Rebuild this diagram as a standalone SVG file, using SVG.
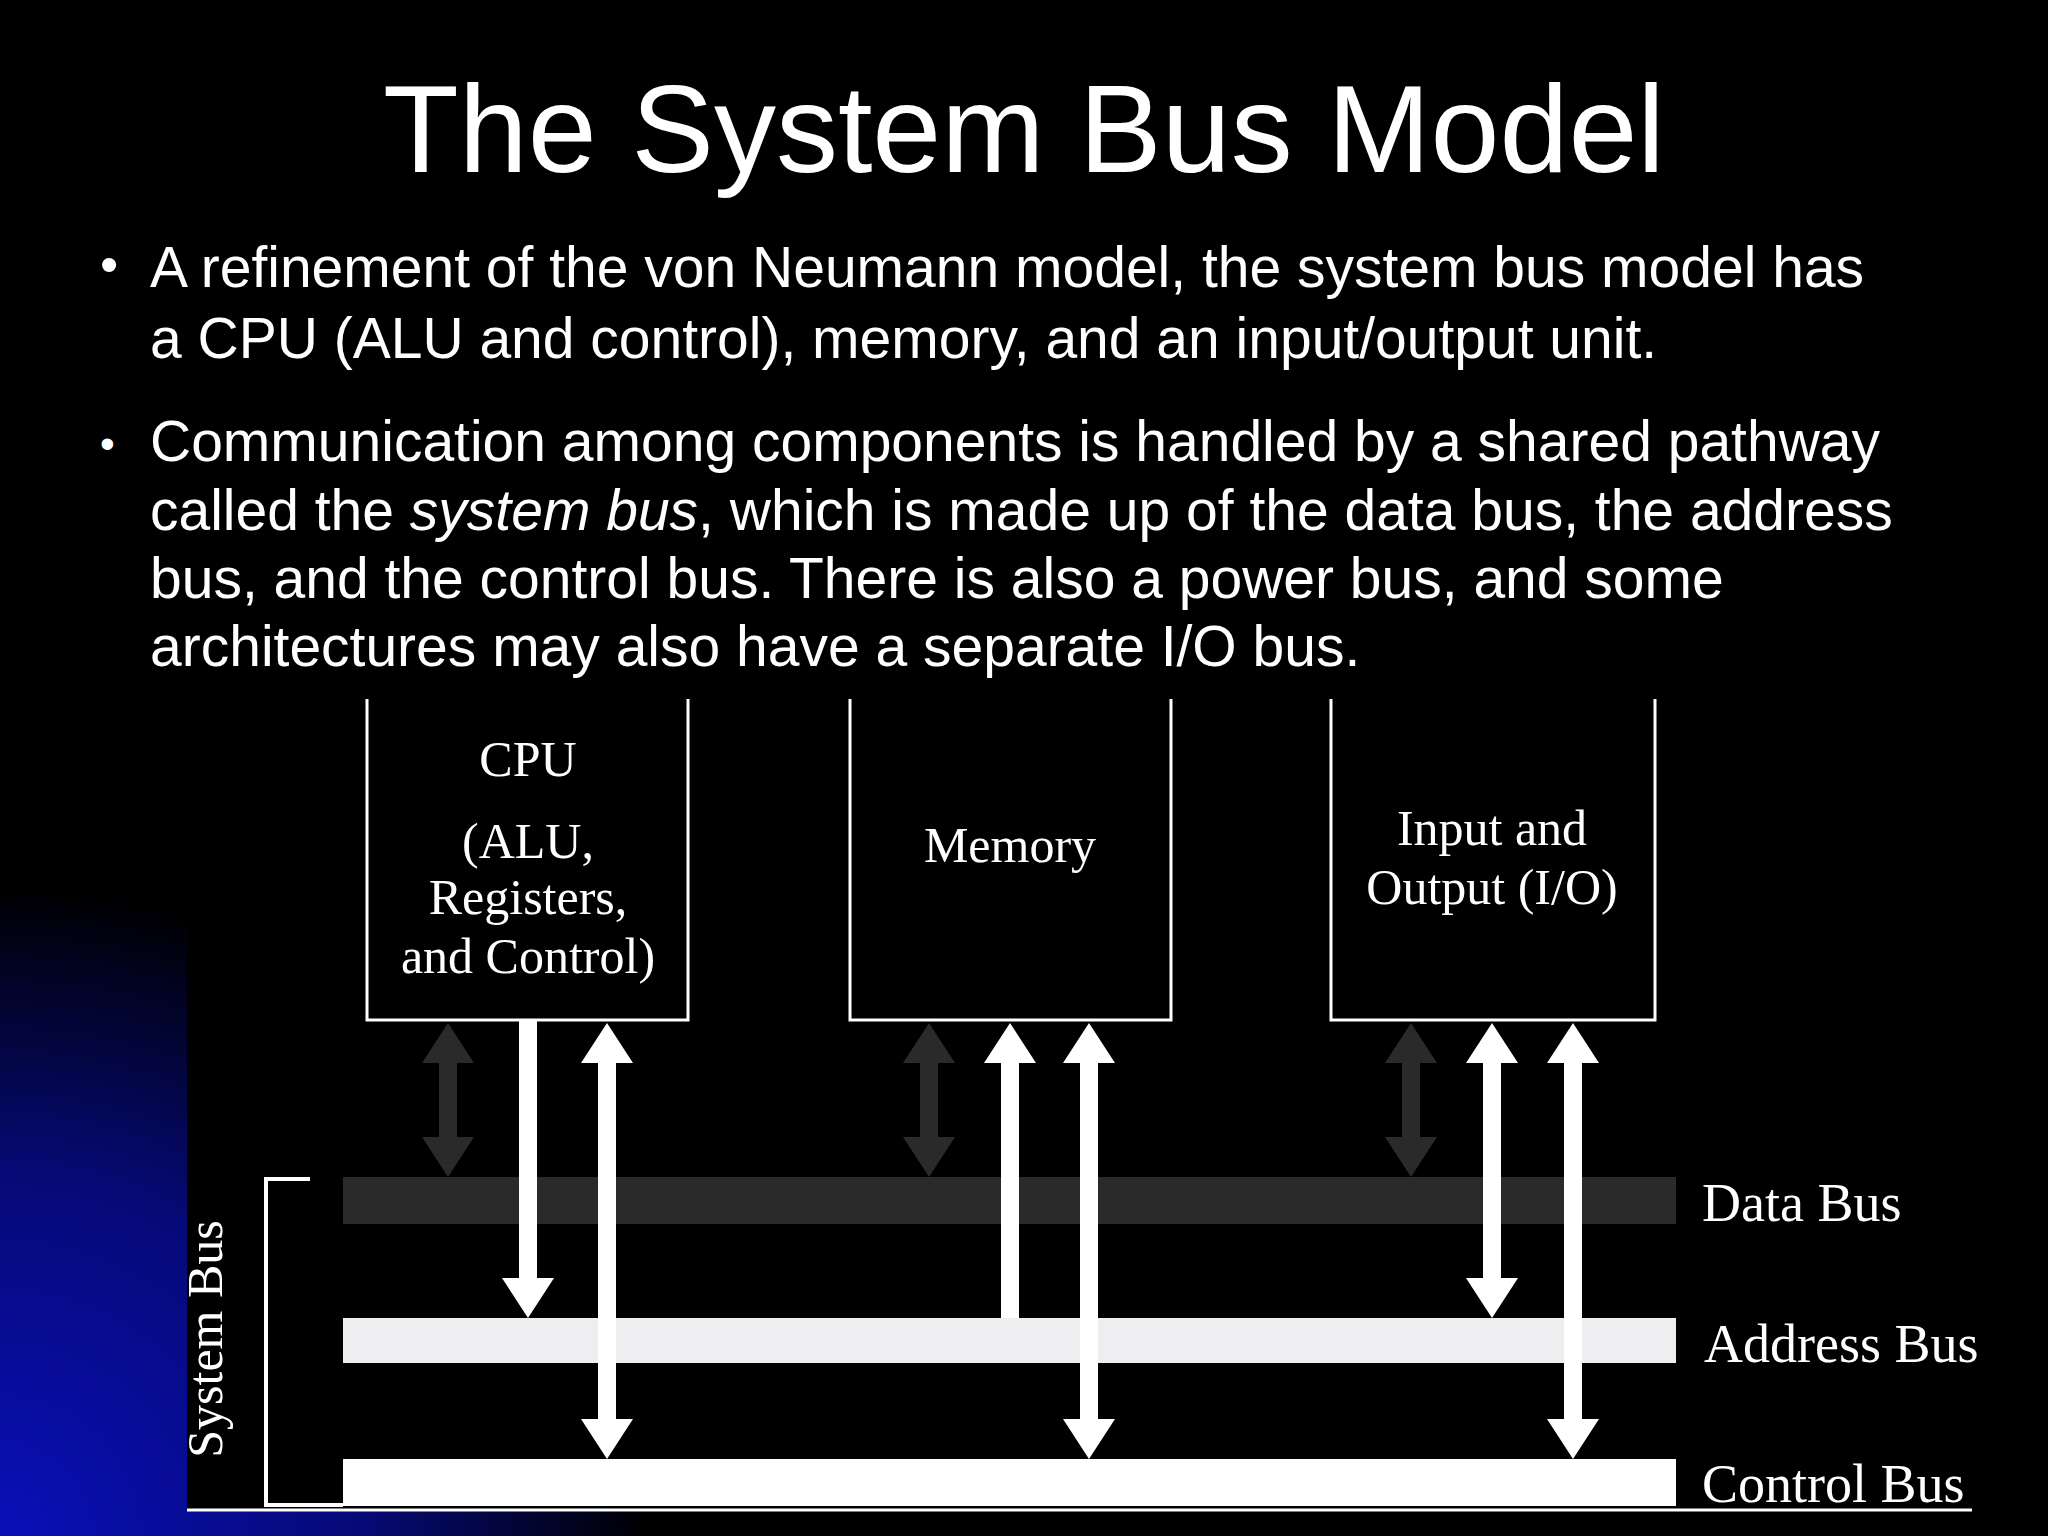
<svg xmlns="http://www.w3.org/2000/svg" width="2048" height="1536" viewBox="0 0 2048 1536">
<defs>
<radialGradient id="glow" cx="0" cy="1536" r="650" gradientUnits="userSpaceOnUse">
<stop offset="0" stop-color="#0a0fb8"/><stop offset="0.55" stop-color="#060a78"/><stop offset="1" stop-color="#000"/>
</radialGradient>
<style>
.t{font-family:"Liberation Sans",Arial,sans-serif;fill:#fff}
.s{font-family:"Liberation Serif","Times New Roman",serif;fill:#fff;font-size:50px;text-anchor:middle}
.l{font-family:"Liberation Serif","Times New Roman",serif;fill:#fff;font-size:54px}
.box{fill:none;stroke:#fff;stroke-width:3}
.w{fill:#fff}
.d{fill:#2a2a2a}
</style>
</defs>
<rect width="2048" height="1536" fill="#000"/>
<rect width="2048" height="1536" fill="url(#glow)"/>
<rect x="187" y="699" width="1861" height="811" fill="#000"/>
<text class="t" x="1024" y="172" font-size="124" text-anchor="middle">The System Bus Model</text>
<g class="t" font-size="57">
<text x="100" y="282" font-size="52">•</text>
<text x="150" y="287">A refinement of the von Neumann model, the system bus model has</text>
<text x="150" y="358">a CPU (ALU and control), memory, and an input/output unit.</text>
<text x="100" y="458" font-size="42">•</text>
<text x="150" y="461">Communication among components is handled by a shared pathway</text>
<text x="150" y="530">called the <tspan font-style="italic">system bus</tspan>, which is made up of the data bus, the address</text>
<text x="150" y="598">bus, and the control bus. There is also a power bus, and some</text>
<text x="150" y="666">architectures may also have a separate I/O bus.</text>
</g>
<g id="cpu"><path class="box" d="M367 699V1020H688V699"/>
<text class="s" x="528" y="776">CPU</text><text class="s" x="528" y="858">(ALU,</text><text class="s" x="528" y="914">Registers,</text><text class="s" x="528" y="973">and Control)</text></g>
<g id="memory"><path class="box" d="M850 699V1020H1171V699"/><text class="s" x="1010" y="862">Memory</text></g>
<g id="io"><path class="box" d="M1331 699V1020H1655V699"/><text class="s" x="1492" y="845">Input and</text><text class="s" x="1492" y="904">Output (I/O)</text></g>
<g id="buses">
<rect class="d" x="343" y="1177" width="1333" height="47"/>
<rect x="343" y="1318" width="1333" height="45" fill="#eeeef0"/>
<rect class="w" x="343" y="1459" width="1333" height="47"/>
<text class="l" x="1702" y="1221">Data Bus</text>
<text class="l" x="1704" y="1362">Address Bus</text>
<text class="l" x="1702" y="1502">Control Bus</text>
<line x1="187" y1="1510" x2="1972" y2="1510" stroke="#fff" stroke-width="3"/>
<path d="M310 1179H266V1505H343" fill="none" stroke="#fff" stroke-width="4"/>
<text class="s" transform="translate(222 1339) rotate(-90)">System Bus</text>
</g>
<g id="connectors">
<polygon class="d" points="448,1023 474,1063 457,1063 457,1137 474,1137 448,1177 422,1137 439,1137 439,1063 422,1063"/>
<polygon class="d" points="929,1023 955,1063 938,1063 938,1137 955,1137 929,1177 903,1137 920,1137 920,1063 903,1063"/>
<polygon class="d" points="1411,1023 1437,1063 1420,1063 1420,1137 1437,1137 1411,1177 1385,1137 1402,1137 1402,1063 1385,1063"/>
<polygon class="w" points="519,1020 537,1020 537,1278 554,1278 528,1318 502,1278 519,1278"/>
<polygon class="w" points="607,1023 633,1063 616,1063 616,1419 633,1419 607,1459 581,1419 598,1419 598,1063 581,1063"/>
<polygon class="w" points="1010,1023 1036,1063 1019,1063 1019,1318 1001,1318 1001,1063 984,1063"/>
<polygon class="w" points="1089,1023 1115,1063 1098,1063 1098,1419 1115,1419 1089,1459 1063,1419 1080,1419 1080,1063 1063,1063"/>
<polygon class="w" points="1492,1023 1518,1063 1501,1063 1501,1278 1518,1278 1492,1318 1466,1278 1483,1278 1483,1063 1466,1063"/>
<polygon class="w" points="1573,1023 1599,1063 1582,1063 1582,1419 1599,1419 1573,1459 1547,1419 1564,1419 1564,1063 1547,1063"/>
</g>
</svg>
